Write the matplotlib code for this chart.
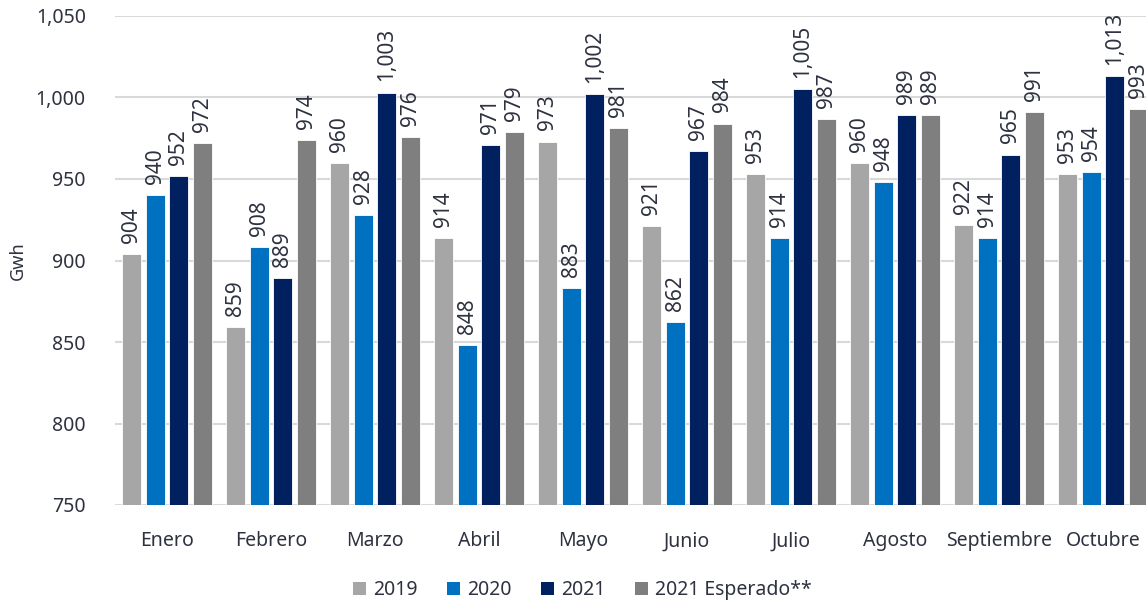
import numpy as np
import matplotlib
matplotlib.use("Agg")
import matplotlib.pyplot as plt
from matplotlib.patches import Patch

months = ["Enero", "Febrero", "Marzo", "Abril", "Mayo", "Junio",
          "Julio", "Agosto", "Septiembre", "Octubre"]
series_names = ["2019", "2020", "2021", "2021 Esperado**"]
v2019 = [904, 859, 960, 914, 973, 921, 953, 960, 922, 953]
v2020 = [940, 908, 928, 848, 883, 862, 914, 948, 914, 954]
v2021 = [952, 889, 1003, 971, 1002, 967, 1005, 989, 965, 1013]
v2021_esp = [972, 974, 976, 979, 981, 984, 987, 989, 991, 993]
colors = ["#A6A6A6", "#0070C0", "#002060", "#7F7F7F"]

plt.rcParams["font.family"] = ["Noto Sans", "DejaVu Sans"]
TXT = "#2E3240"

fig = plt.figure(figsize=(11.46, 6.01), dpi=100)
# axes runs past the right edge so the last group is cut, as in the reference
ax = fig.add_axes([115/1146, 96/601, 1144/1146, 489/601])

x = np.arange(len(months))
pitch, width = 0.226, 0.182
for i, (vals, c) in enumerate(zip([v2019, v2020, v2021, v2021_esp], colors)):
    pos = x + (i - 1.5) * pitch
    ax.bar(pos, np.array(vals) - 750, bottom=750, width=width, color=c,
           edgecolor="white", linewidth=0.6, zorder=3)
    for p, v in zip(pos, vals):
        ax.annotate(f"{v:,}", (p, v), xytext=(0, 8), textcoords="offset points",
                    rotation=90, ha="center", va="bottom", fontsize=15,
                    color=TXT, annotation_clip=False, zorder=4)

ax.set_xlim(-0.5, 10.5)
ax.set_ylim(750, 1050)
ax.set_yticks(range(750, 1051, 50))
ax.set_yticklabels([f"{t:,}" for t in range(750, 1051, 50)])
ax.set_xticks(x)
ax.set_xticklabels(months)
ax.tick_params(axis="both", length=0, labelsize=14, labelcolor=TXT)
ax.tick_params(axis="y", pad=21)
ax.tick_params(axis="x", pad=19)
ax.grid(axis="y", color="#D9D9D9", linewidth=1.5, zorder=0)
for s in ax.spines.values():
    s.set_visible(False)
ax.set_ylabel("Gwh", fontsize=13, color=TXT)
ax.yaxis.set_label_coords(-88/1144, 0.5)

handles = [Patch(facecolor=c, edgecolor="none") for c in colors]
fig.legend(handles, series_names, loc="center", bbox_to_anchor=(0.508, 0.018),
           ncol=4, frameon=False, fontsize=14, handlelength=0.7,
           handleheight=0.7, handletextpad=0.35, columnspacing=1.5,
           labelcolor=TXT)

fig.savefig("out.png", dpi=100)
